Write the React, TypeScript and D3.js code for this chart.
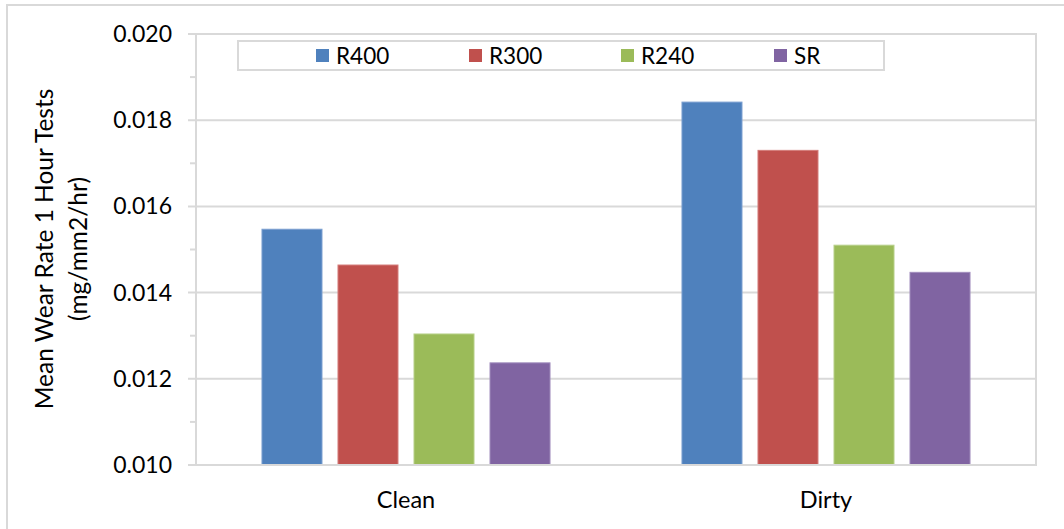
import React from "react";
import * as d3 from "d3";

const categories = ["Clean", "Dirty"];
const seriesNames = ["R400", "R300", "R240", "SR"];
const seriesColors = ["#4f81bd", "#c0504d", "#9bbb59", "#8064a2"];
const seriesStroke = ["#7a9fd0", "#d47c7a", "#b7d08a", "#a08cbd"];
const R400 = [0.01547, 0.01842];
const R300 = [0.01464, 0.0173];
const R240 = [0.01304, 0.0151];
const SR = [0.01237, 0.01447];
const majorTicks = [0.01, 0.012, 0.014, 0.016, 0.018, 0.02];
const minorTicks = [0.011, 0.013, 0.015, 0.017, 0.019];

const seriesValues = [R400, R300, R240, SR];

const W = 1064;
const H = 529;
const plotL = 196;
const plotR = 1036;
const plotT = 34;
const plotB = 465;
const FONT = "Lato, 'Open Sans', sans-serif";
const GRID = "#d9d9d9";

export default function App() {
  const x0 = d3.scaleBand<string>().domain(categories).range([plotL, plotR]).padding(0);
  const x1 = d3
    .scaleBand<string>()
    .domain(seriesNames)
    .range([0, x0.bandwidth()])
    .paddingInner(0.2105)
    .paddingOuter(0.868);
  const y = d3.scaleLinear().domain([0.01, 0.02]).range([plotB, plotT]);
  const fmt = d3.format(".3f");

  const legendX = [316, 469, 621, 774];

  return (
    <svg
      width={W}
      height={H}
      style={{ position: "absolute", left: 0, top: 0, background: "#fff" }}
      fontFamily={FONT}
    >
      <rect x={7} y={5} width={W + 20} height={H + 20} fill="#fff" stroke={GRID} strokeWidth={2} />
      {/* gridlines */}
      {majorTicks.map((t) => (
        <line key={"g" + t} x1={188} x2={plotR} y1={y(t)} y2={y(t)} stroke={GRID} strokeWidth={2} />
      ))}
      {minorTicks.map((t) => (
        <line key={"m" + t} x1={190} x2={plotL} y1={y(t)} y2={y(t)} stroke={GRID} strokeWidth={2} />
      ))}
      {/* plot borders */}
      <line x1={plotL} x2={plotL} y1={plotT} y2={plotB} stroke={GRID} strokeWidth={2} />
      <line x1={plotR} x2={plotR} y1={plotT - 1} y2={plotB + 1} stroke={GRID} strokeWidth={2} />
      {/* bars */}
      {categories.map((c, ci) =>
        seriesNames.map((s, si) => {
          const v = seriesValues[si][ci];
          const bx = (x0(c) as number) + (x1(s) as number);
          return (
            <rect
              key={c + s}
              x={bx}
              y={y(v)}
              width={x1.bandwidth()}
              height={plotB - y(v)}
              fill={seriesColors[si]}
              stroke={seriesStroke[si]}
              strokeWidth={1}
            />
          );
        })
      )}
      <line x1={188} x2={plotR + 1} y1={plotB} y2={plotB} stroke={GRID} strokeWidth={2} />
      {/* y tick labels */}
      {majorTicks.map((t) => (
        <text key={"t" + t} x={172} y={y(t) + 8} textAnchor="end" fontSize={23} fill="#000">
          {fmt(t)}
        </text>
      ))}
      {/* x labels */}
      {categories.map((c) => (
        <text
          key={"x" + c}
          x={(x0(c) as number) + x0.bandwidth() / 2}
          y={508}
          textAnchor="middle"
          fontSize={23.5}
          fill="#000"
        >
          {c}
        </text>
      ))}
      {/* y title */}
      <g transform={`translate(45, 249) rotate(-90)`}>
        <text x={0} y={8} textAnchor="middle" fontSize={24.5} fill="#000">
          Mean Wear Rate 1 Hour Tests
        </text>
      </g>
      <g transform={`translate(79, 249) rotate(-90)`}>
        <text x={0} y={8} textAnchor="middle" fontSize={24.5} fill="#000">
          (mg/mm2/hr)
        </text>
      </g>
      {/* legend */}
      <rect x={238} y={41} width={646} height={29} fill="#fff" stroke={GRID} strokeWidth={2} />
      {seriesNames.map((s, i) => (
        <g key={"l" + s}>
          <rect x={legendX[i]} y={49} width={13} height={13} fill={seriesColors[i]} />
          <text x={legendX[i] + 20} y={64} fontSize={22.5} fill="#000">
            {s}
          </text>
        </g>
      ))}
    </svg>
  );
}
